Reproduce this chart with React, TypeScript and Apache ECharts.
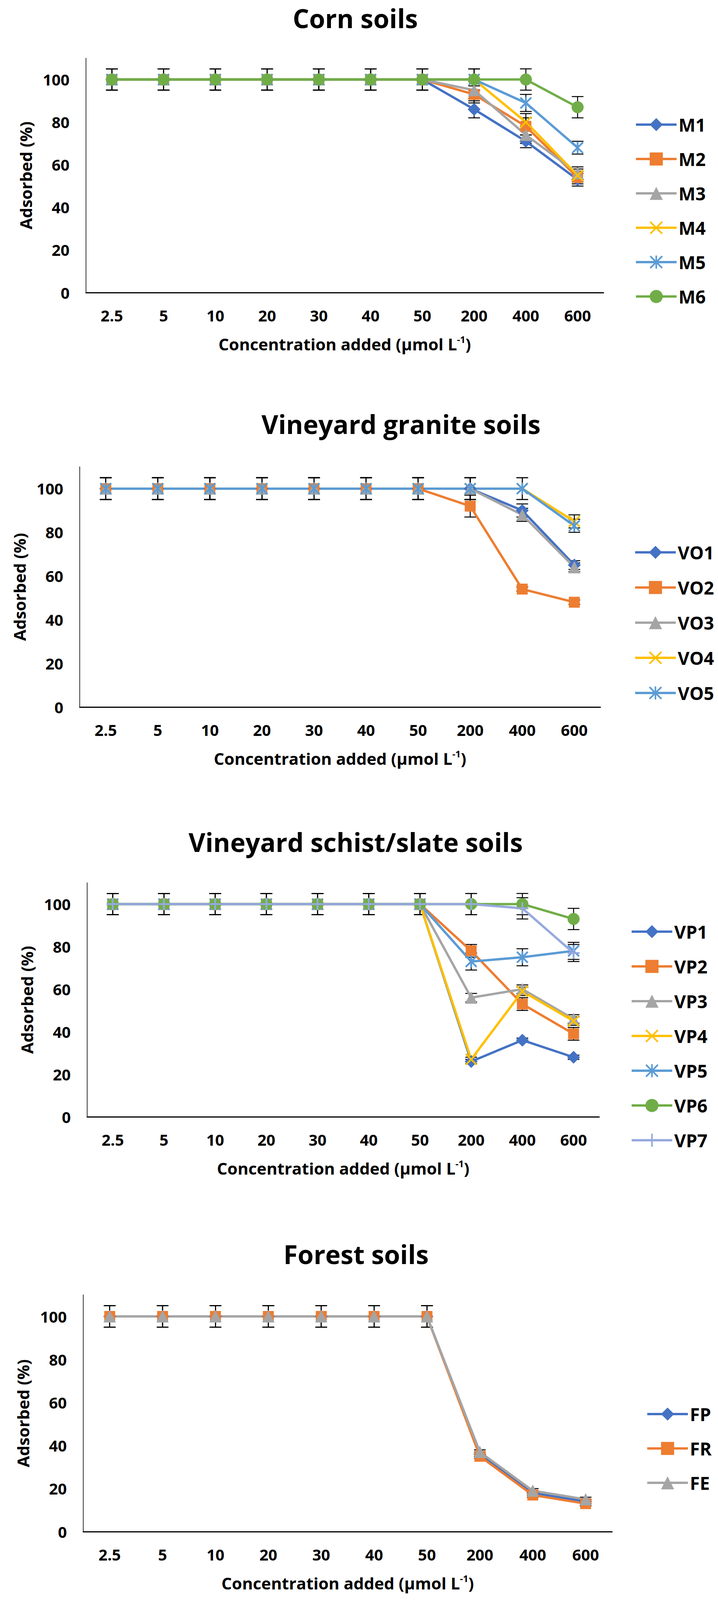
import { useEffect, useRef } from 'react';
import * as echarts from 'echarts';

// concentration added (µmol L-1)
const categories = ['2.5', '5', '10', '20', '30', '40', '50', '200', '400', '600'];

// Corn soils, adsorbed (%)
const M1 = [100, 100, 100, 100, 100, 100, 100, 86, 71, 53];
const M2 = [100, 100, 100, 100, 100, 100, 100, 93, 78, 54];
const M3 = [100, 100, 100, 100, 100, 100, 100, 95, 74, 56];
const M4 = [100, 100, 100, 100, 100, 100, 100, 100, 80, 55];
const M5 = [100, 100, 100, 100, 100, 100, 100, 100, 89, 68];
const M6 = [100, 100, 100, 100, 100, 100, 100, 100, 100, 87];
const M1_ERR = [5, 5, 5, 5, 5, 5, 5, 4, 3, 3];
const M2_ERR = [5, 5, 5, 5, 5, 5, 5, 4, 4, 3];
const M3_ERR = [5, 5, 5, 5, 5, 5, 5, 4, 4, 3];
const M4_ERR = [5, 5, 5, 5, 5, 5, 5, 5, 4, 3];
const M5_ERR = [5, 5, 5, 5, 5, 5, 5, 5, 4, 3];
const M6_ERR = [5, 5, 5, 5, 5, 5, 5, 5, 5, 5];

// Vineyard granite soils
const VO1 = [100, 100, 100, 100, 100, 100, 100, 100, 90, 65];
const VO2 = [100, 100, 100, 100, 100, 100, 100, 92, 54, 48];
const VO3 = [100, 100, 100, 100, 100, 100, 100, 100, 88, 64];
const VO4 = [100, 100, 100, 100, 100, 100, 100, 100, 100, 85];
const VO5 = [100, 100, 100, 100, 100, 100, 100, 100, 100, 83];
const VO1_ERR = [5, 5, 5, 5, 5, 5, 5, 5, 3, 2];
const VO2_ERR = [5, 5, 5, 5, 5, 5, 5, 5, 1, 1];
const VO3_ERR = [5, 5, 5, 5, 5, 5, 5, 5, 3, 2];
const VO4_ERR = [5, 5, 5, 5, 5, 5, 5, 5, 5, 3];
const VO5_ERR = [5, 5, 5, 5, 5, 5, 5, 5, 5, 3];

// Vineyard schist/slate soils
const VP1 = [100, 100, 100, 100, 100, 100, 100, 26, 36, 28];
const VP2 = [100, 100, 100, 100, 100, 100, 100, 78, 53, 39];
const VP3 = [100, 100, 100, 100, 100, 100, 100, 56, 60, 46];
const VP4 = [100, 100, 100, 100, 100, 100, 100, 27, 59, 45];
const VP5 = [100, 100, 100, 100, 100, 100, 100, 73, 75, 78];
const VP6 = [100, 100, 100, 100, 100, 100, 100, 100, 100, 93];
const VP7 = [100, 100, 100, 100, 100, 100, 100, 100, 98, 77];
const VP1_ERR = [5, 5, 5, 5, 5, 5, 5, 1, 1, 1];
const VP2_ERR = [5, 5, 5, 5, 5, 5, 5, 3, 3, 3];
const VP3_ERR = [5, 5, 5, 5, 5, 5, 5, 2, 2, 2];
const VP4_ERR = [5, 5, 5, 5, 5, 5, 5, 1, 2, 2];
const VP5_ERR = [5, 5, 5, 5, 5, 5, 5, 4, 4, 4];
const VP6_ERR = [5, 5, 5, 5, 5, 5, 5, 5, 5, 5];
const VP7_ERR = [5, 5, 5, 5, 5, 5, 5, 5, 5, 4];

// Forest soils
const FP = [100, 100, 100, 100, 100, 100, 100, 36, 18, 14];
const FR = [100, 100, 100, 100, 100, 100, 100, 35, 17, 13];
const FE = [100, 100, 100, 100, 100, 100, 100, 37, 19, 15];
const FP_ERR = [5, 5, 5, 5, 5, 5, 5, 1, 1, 1];
const FR_ERR = [5, 5, 5, 5, 5, 5, 5, 1, 1, 1];
const FE_ERR = [5, 5, 5, 5, 5, 5, 5, 1, 1, 1];

const FONT = '"Open Sans", sans-serif';
const REF_HEIGHT = 4307;

const BLUE = '#4472C4';
const ORANGE = '#ED7D31';
const GRAY = '#A5A5A5';
const YELLOW = '#FFC000';
const SKY = '#5B9BD5';
const GREEN = '#70AD47';
const LAVENDER = '#97A9DE';

// Excel-like thin markers built as filled outlines
const X_MARK = 'path://M0,0.9 L0.9,0 L10,9.1 L9.1,10 Z M9.1,0 L10,0.9 L0.9,10 L0,9.1 Z';
const STAR_MARK = 'path://M4.4,0 L5.6,0 L5.6,10 L4.4,10 Z M0,0.9 L0.9,0 L10,9.1 L9.1,10 Z M9.1,0 L10,0.9 L0.9,10 L0,9.1 Z';
const PLUS_MARK = 'path://M0,4.4 L10,4.4 L10,5.6 L0,5.6 Z M4.4,0 L5.6,0 L5.6,10 L4.4,10 Z';

interface SeriesDef {
  name: string;
  values: number[];
  errors: number[];
  color: string;
  symbol: string;
  size: number;
}

const mk = (name: string, values: number[], errors: number[], color: string, symbol: string, size: number): SeriesDef =>
  ({ name, values, errors, color, symbol, size });

// layout measured on a 1837 x 4307 page
const panels = [
  {
    title: 'Corn soils',
    titleX: 909,
    titleY: 48,
    grid: { left: 220, top: 157, width: 1324, height: 631 },
    legend: { left: 1619, top: 306, step: 93 },
    series: [
      mk('M1', M1, M1_ERR, BLUE, 'diamond', 32),
      mk('M2', M2, M2_ERR, ORANGE, 'rect', 27),
      mk('M3', M3, M3_ERR, GRAY, 'triangle', 30),
      mk('M4', M4, M4_ERR, YELLOW, X_MARK, 30),
      mk('M5', M5, M5_ERR, SKY, STAR_MARK, 30),
      mk('M6', M6, M6_ERR, GREEN, 'circle', 30),
    ],
  },
  {
    title: 'Vineyard granite soils',
    titleX: 1026,
    titleY: 1141,
    grid: { left: 204, top: 1257, width: 1332, height: 647 },
    legend: { left: 1617, top: 1457, step: 95 },
    series: [
      mk('VO1', VO1, VO1_ERR, BLUE, 'diamond', 32),
      mk('VO2', VO2, VO2_ERR, ORANGE, 'rect', 27),
      mk('VO3', VO3, VO3_ERR, GRAY, 'triangle', 30),
      mk('VO4', VO4, VO4_ERR, YELLOW, X_MARK, 30),
      mk('VO5', VO5, VO5_ERR, SKY, STAR_MARK, 30),
    ],
  },
  {
    title: 'Vineyard schist/slate soils',
    titleX: 910,
    titleY: 2266,
    grid: { left: 223, top: 2376, width: 1310, height: 630 },
    legend: { left: 1608, top: 2478, step: 94 },
    series: [
      mk('VP1', VP1, VP1_ERR, BLUE, 'diamond', 32),
      mk('VP2', VP2, VP2_ERR, ORANGE, 'rect', 27),
      mk('VP3', VP3, VP3_ERR, GRAY, 'triangle', 30),
      mk('VP4', VP4, VP4_ERR, YELLOW, X_MARK, 30),
      mk('VP5', VP5, VP5_ERR, SKY, STAR_MARK, 30),
      mk('VP6', VP6, VP6_ERR, GREEN, 'circle', 30),
      mk('VP7', VP7, VP7_ERR, LAVENDER, PLUS_MARK, 30),
    ],
  },
  {
    title: 'Forest soils',
    titleX: 911,
    titleY: 3375,
    grid: { left: 213, top: 3486, width: 1353, height: 637 },
    legend: { left: 1648, top: 3777, step: 93 },
    series: [
      mk('FP', FP, FP_ERR, BLUE, 'diamond', 32),
      mk('FR', FR, FR_ERR, ORANGE, 'rect', 27),
      mk('FE', FE, FE_ERR, GRAY, 'triangle', 30),
    ],
  },
];

const errorBar = (params: any, api: any) => {
  const idx = api.value(0);
  const v = api.value(1);
  const e = api.value(2);
  const hi = api.coord([idx, v + e]);
  const lo = api.coord([idx, v - e]);
  const cap = 15;
  const style = { stroke: '#000', lineWidth: 2.5 };
  return {
    type: 'group',
    children: [
      { type: 'line', shape: { x1: hi[0], y1: hi[1], x2: lo[0], y2: lo[1] }, style },
      { type: 'line', shape: { x1: hi[0] - cap, y1: hi[1], x2: hi[0] + cap, y2: hi[1] }, style },
      { type: 'line', shape: { x1: lo[0] - cap, y1: lo[1], x2: lo[0] + cap, y2: lo[1] }, style },
    ],
  };
};

export default function App() {
  const chartRef = useRef<HTMLDivElement>(null);
  const pageHeight = Math.min(window.innerHeight || REF_HEIGHT, REF_HEIGHT);

  useEffect(() => {
    if (!chartRef.current) return;
    document.body.style.margin = '0';
    document.body.style.overflow = 'hidden';
    const chart = echarts.init(chartRef.current, undefined, { renderer: 'svg' });

    // the visible page can be a little shorter than the reference: squeeze vertically
    const ky = pageHeight / REF_HEIGHT;
    const Y = (v: number) => Math.round(v * ky);

    const grids: any[] = [];
    const xAxes: any[] = [];
    const yAxes: any[] = [];
    const legends: any[] = [];
    const series: any[] = [];
    const graphics: any[] = [];

    panels.forEach((p, i) => {
      grids.push({ left: p.grid.left, width: p.grid.width, top: Y(p.grid.top), height: Y(p.grid.height), containLabel: false });

      xAxes.push({
        type: 'category',
        gridIndex: i,
        data: categories,
        boundaryGap: true,
        axisLine: { lineStyle: { color: '#000', width: 3 } },
        axisTick: { show: false },
        axisLabel: { interval: 0, margin: Y(40), fontSize: 40, fontWeight: 'bold', fontFamily: FONT, color: '#000' },
        name: 'Concentration added (µmol L{sup|-1})',
        nameLocation: 'middle',
        nameGap: Y(112),
        nameTextStyle: {
          fontSize: 42,
          fontWeight: 'bold',
          fontFamily: FONT,
          color: '#000',
          lineHeight: 48,
          rich: {
            sup: { fontSize: 24, fontWeight: 'bold', fontFamily: FONT, color: '#000', verticalAlign: 'top', lineHeight: 48 },
          },
        },
      });

      yAxes.push({
        type: 'value',
        gridIndex: i,
        min: 0,
        max: 110,
        interval: 20,
        axisLine: { show: true, lineStyle: { color: '#333', width: 2 } },
        axisTick: { show: false },
        splitLine: { show: false },
        axisLabel: {
          margin: 42,
          fontSize: 40,
          fontWeight: 'bold',
          fontFamily: FONT,
          color: '#000',
          formatter: (v: number) => (v > 100 ? '' : String(v)),
        },
        name: 'Adsorbed (%)',
        nameLocation: 'middle',
        nameGap: 134,
        nameTextStyle: { fontSize: 42, fontWeight: 'bold', fontFamily: FONT, color: '#000' },
      });

      legends.push({
        orient: 'vertical',
        left: p.legend.left,
        top: Y(p.legend.top),
        itemGap: Y(p.legend.step) - 46,
        itemWidth: 104,
        itemHeight: 42,
        selectedMode: false,
        data: p.series.map(s => s.name),
        lineStyle: { width: 6 },
        textStyle: { fontSize: 46, fontWeight: 'bold', fontFamily: FONT, color: '#000', lineHeight: 46 },
      });

      p.series.forEach(s => {
        series.push({
          type: 'custom',
          name: `${s.name} error`,
          xAxisIndex: i,
          yAxisIndex: i,
          z: 1,
          silent: true,
          renderItem: errorBar,
          encode: { x: 0, y: 1 },
          data: s.values.map((v, k) => [k, v, s.errors[k]]),
        });
      });

      p.series.forEach(s => {
        series.push({
          type: 'line',
          name: s.name,
          xAxisIndex: i,
          yAxisIndex: i,
          z: 2,
          data: s.values,
          symbol: s.symbol,
          symbolSize: s.size,
          itemStyle: { color: s.color, borderColor: s.color },
          lineStyle: { color: s.color, width: 6 },
        });
      });

      graphics.push({
        type: 'text',
        x: p.titleX,
        y: Y(p.titleY),
        style: {
          text: p.title,
          fill: '#000',
          font: `bold 66px ${FONT}`,
          align: 'center',
          verticalAlign: 'middle',
          textAlign: 'center',
          textVerticalAlign: 'middle',
        },
      });
    });

    chart.setOption({
      animation: false,
      backgroundColor: '#fff',
      grid: grids,
      xAxis: xAxes,
      yAxis: yAxes,
      legend: legends,
      series,
      graphic: graphics,
    });

    return () => chart.dispose();
  }, [pageHeight]);

  return <div ref={chartRef} style={{ width: '100%', height: pageHeight }} />;
}
